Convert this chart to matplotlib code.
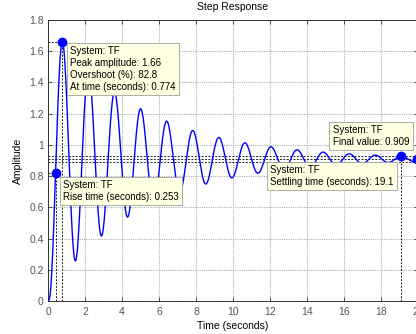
import numpy as np
import matplotlib
matplotlib.use("Agg")
import matplotlib.pyplot as plt

# ---- data -------------------------------------------------------------
# closed-loop transfer function "TF" (numerator / denominator coefficients)
tf_num = [253.31]
tf_den = [1.0, 14.4, 25.505, 278.67]

final_value = 0.909
peak_amplitude = 1.66
overshoot_pct = 82.8
peak_time = 0.774
rise_time = 0.253
settling_time = 19.1

x_ticks = [0, 2, 4, 6, 8, 10, 12, 14, 16, 18, 20]
y_ticks = [0, 0.2, 0.4, 0.6, 0.8, 1.0, 1.2, 1.4, 1.6, 1.8]
y_tick_labels = ["0", "0.2", "0.4", "0.6", "0.8", "1", "1.2", "1.4", "1.6", "1.8"]

# ---- step response of the transfer function ---------------------------
t = np.linspace(0, 20, 8001)
poles = np.roots(tf_den)
dden = np.polyder(tf_den)
y = np.full_like(t, np.polyval(tf_num, 0) / np.polyval(tf_den, 0))
for p in poles:
    r = np.polyval(tf_num, p) / (p * np.polyval(dden, p))
    y = y + (r * np.exp(p * t)).real

plt.rcParams["font.family"] = ["Liberation Sans", "DejaVu Sans"]

fig = plt.figure(figsize=(4.16, 3.34), dpi=100)
ax = fig.add_axes([48 / 416, 1 - 301 / 334, 370 / 416, 281 / 334])

# characteristic lines
lk = dict(color="#222222", lw=0.7, ls=(0, (2, 1.5)), zorder=2)
ax.axhline(final_value, **lk)
ax.axhline(final_value * 1.02, **lk)
ax.axhline(final_value * 0.98, **lk)
ax.plot([peak_time, peak_time], [0, peak_amplitude], **lk)
ax.plot([0, peak_time], [peak_amplitude, peak_amplitude], **lk)

lvl90 = 0.9 * final_value
t90 = t[np.argmax(y >= lvl90)]
ax.plot([t90, t90], [0, lvl90], **lk)
ax.plot([0, t90], [lvl90, lvl90], **lk)
ax.plot([settling_time, settling_time], [0, final_value * 1.02], **lk)

ax.plot(t, y, color="#0000ff", lw=1.0, zorder=3)

mk = dict(marker="o", ms=6, color="#0000ff", ls="none", zorder=4, clip_on=False)
ax.plot([peak_time], [peak_amplitude], **mk)
ax.plot([t90], [lvl90], **mk)
ax.plot([settling_time], [final_value * 1.02], **mk)
ax.plot([19.95], [final_value], **mk)

ax.set_xlim(0, 20)
ax.set_ylim(0, 1.8)
ax.set_xticks(x_ticks)
ax.set_yticks(y_ticks)
ax.set_yticklabels(y_tick_labels)
ax.grid(True, color="#b0b0b0", ls=(0, (1, 1)), lw=0.8)
ax.set_axisbelow(True)
ax.tick_params(direction="in", top=True, right=True, length=3, width=0.6,
               labelsize=7.5, labelcolor="#555555", color="#333333")
ax.tick_params(axis="x", pad=4.5)
ax.tick_params(axis="y", pad=3)
for s in ax.spines.values():
    s.set_color("#333333")
    s.set_linewidth(0.7)

ax.set_xlabel("Time (seconds)", fontsize=7.5)
ax.xaxis.set_label_coords(0.5, -0.071)
ax.set_ylabel("Amplitude", fontsize=7.5)
ax.yaxis.set_label_coords(-0.068, 0.5)
ax.text(0.5, 1.046, "Step Response", transform=ax.transAxes, ha="center",
        va="center", fontsize=7.5)

bb = dict(boxstyle="square,pad=0.35", fc="#ffffe1", ec="#a0a0a0", lw=0.6)
tk = dict(transform=ax.transAxes, ha="left", va="top", fontsize=7,
          linespacing=1.25, bbox=bb, zorder=6)
ax.text(0.0595, 0.9075,
        "System: TF\nPeak amplitude: %.2f\nOvershoot (%%): %.1f\nAt time (seconds): %.3f"
        % (peak_amplitude, overshoot_pct, peak_time), **tk)
ax.text(0.0405, 0.4306, "System: TF\nRise time (seconds): %.3f" % rise_time, **tk)
ax.text(0.770, 0.6263, "System: TF\nFinal value: %.3f" % final_value, **tk)
ax.text(0.600, 0.484, "System: TF\nSettling time (seconds): %.1f" % settling_time, **tk)

fig.savefig("out.png", dpi=100)
